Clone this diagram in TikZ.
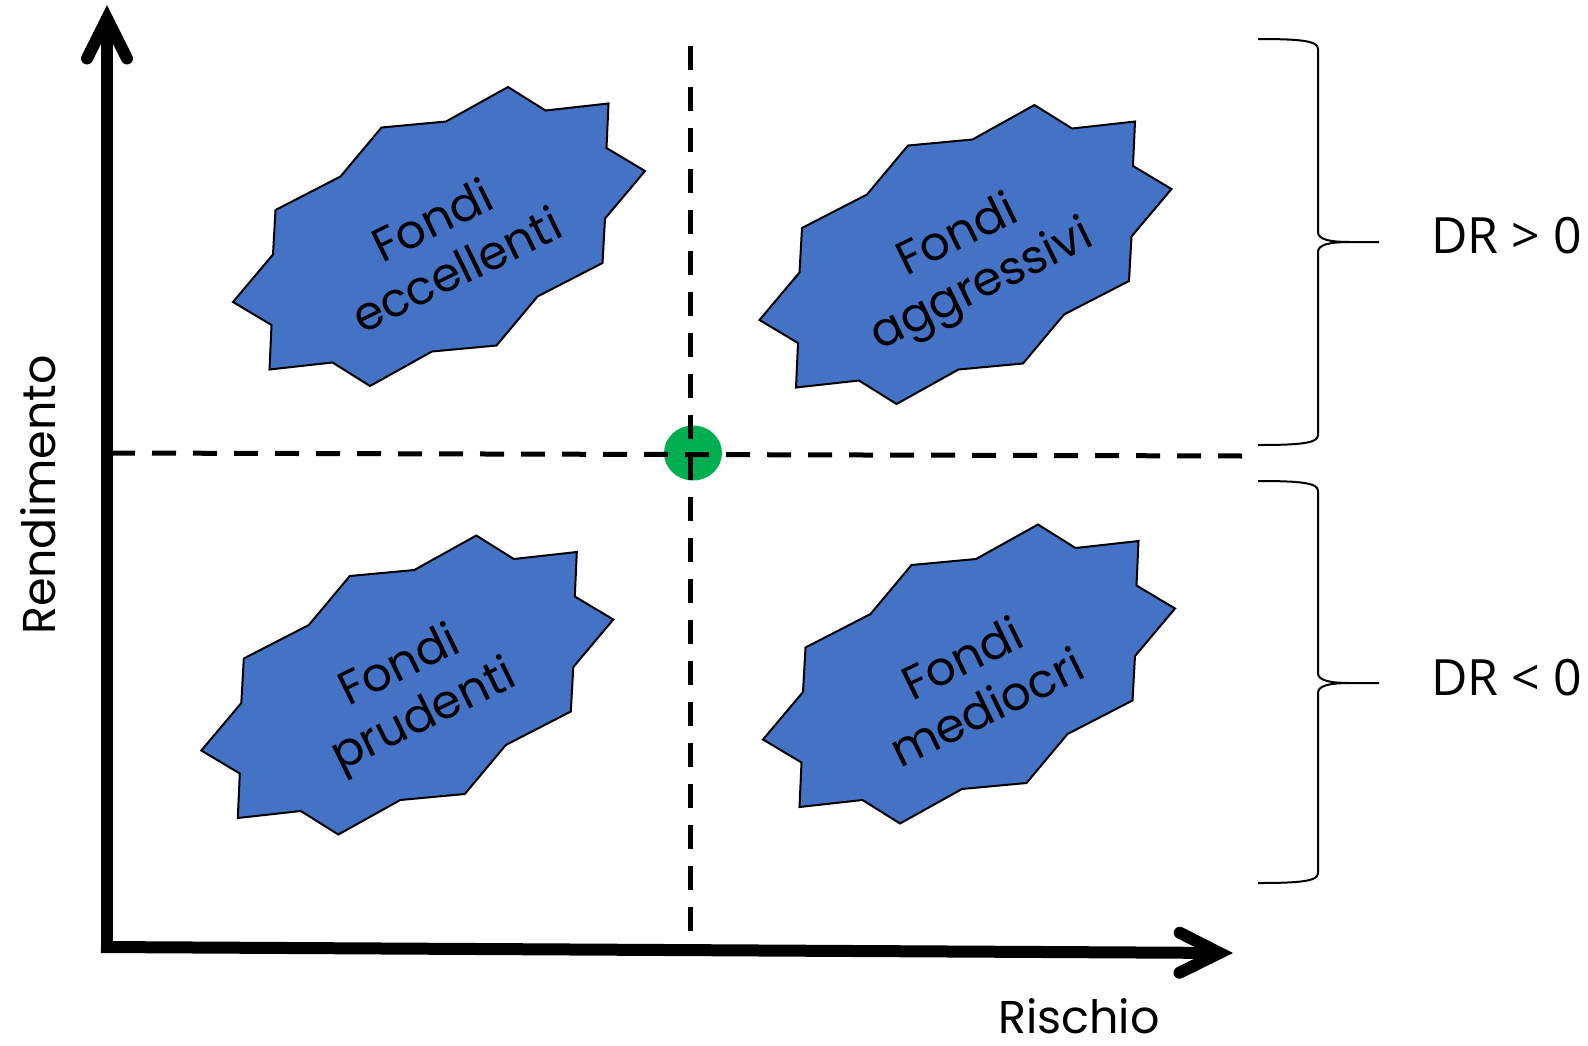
\documentclass[tikz,border=0pt]{standalone}
\usepackage{fontspec}
\setmainfont{Poppins}
\newfontfamily\drfont{Open Sans}
\usetikzlibrary{arrows.meta,shapes.geometric}

\definecolor{fondoblu}{HTML}{4472C4}
\definecolor{verdepunto}{HTML}{00B050}

\tikzset{
  asse/.style={line width=12pt, -{Straight Barb[length=40pt, width=40pt, line cap=round]}},
  guida/.style={line width=5pt, dash pattern=on 24pt off 17pt},
  fondo/.style={draw=black, line width=2pt, fill=fondoblu},
  etichetta/.style={font=\fontsize{47}{55}\selectfont, align=center, rotate=26, inner sep=0pt},
  titolo/.style={font=\fontsize{46}{52}\selectfont, inner sep=0pt},
  graffa/.style={line width=2pt},
  drtesto/.style={font=\drfont\fontsize{50}{56}\selectfont, inner sep=0pt, anchor=base west},
  punto/.style={ellipse, fill=verdepunto, minimum width=58pt, minimum height=55pt, inner sep=0pt}
}

% #1 name, #2 centre, #3 text
\newcommand{\Fondo}[3]{
  \begin{scope}[shift={#2}]
    \draw[fondo] plot coordinates {(69,-149.5) (106.5,-126) (169.5,-133) (167.5,-88.5) (206,-65.5)
      (166,-18) (163.5,26.5) (98.5,60) (57.5,109) (-7,115) (-69,149.5) (-106.5,126) (-169.5,133)
      (-167.5,88.5) (-206,65.5) (-166,18) (-163.5,-26.5) (-98.5,-60) (-57.5,-109) (7,-115)} -- cycle;
    \node[etichetta] (#1) at (5,8) {#3};
  \end{scope}
}

% #1 top, #2 middle, #3 bottom
\newcommand{\Graffa}[3]{
  \draw[graffa] (1258,#1) .. controls (1302,#1) and (1318,#1+2) .. (1318,#1+10)
    -- (1318,#2-10) .. controls (1318,#2-3) and (1328,#2) .. (1350,#2) -- (1379,#2)
    (1350,#2) .. controls (1328,#2) and (1318,#2+3) .. (1318,#2+10)
    -- (1318,#3-10) .. controls (1318,#3-2) and (1302,#3) .. (1258,#3);
}

\begin{document}
\begin{tikzpicture}[x=1pt, y=-1pt]
\useasboundingbox (0,0) rectangle (1588,1045);

\Fondo{eccellenti}{(439,236.5)}{Fondi\\eccellenti}
\Fondo{aggressivi}{(965.5,254.5)}{Fondi\\aggressivi}
\Fondo{prudenti}{(407.3,685)}{Fondi\\prudenti}
\Fondo{mediocri}{(969,674)}{Fondi\\mediocri}

\node[punto] (mercato) at (693,453) {};
\draw[guida] (111,453) -- (1244,456);
\draw[guida] (690,46) -- (690,947);

\coordinate (O) at (107,947);
\coordinate (ytip) at (107,5);
\coordinate (xtip) at (1233,953);
\draw[asse] (107,953) -- (ytip);
\draw[asse] (101,947) -- (xtip);

\node[titolo, rotate=90, anchor=base] (rendimento) at (55,495) {Rendimento};
\node[titolo, anchor=base] (rischio) at (1079,1033) {Rischio};

\Graffa{39}{242}{445}
\Graffa{481}{683}{883}
\node[drtesto] (drpos) at (1431,253) {DR > 0};
\node[drtesto] (drneg) at (1431,695) {DR < 0};

\end{tikzpicture}
\end{document}
